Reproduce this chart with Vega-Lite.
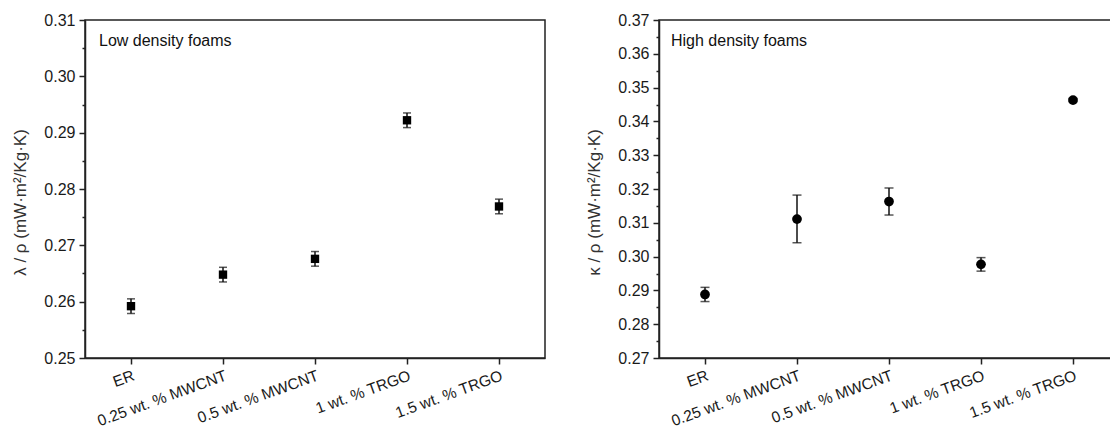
{
  "$schema": "https://vega.github.io/schema/vega-lite/v6.json",
  "padding": {"left": 11, "top": 11, "right": 0, "bottom": 0},
  "spacing": 39,
  "datasets": {
    "low": [
      {"cat": "ER", "v": 0.2592, "lo": 0.2579, "hi": 0.2605},
      {"cat": "0.25 wt. % MWCNT", "v": 0.2648, "lo": 0.2635, "hi": 0.2661},
      {"cat": "0.5 wt. % MWCNT", "v": 0.2676, "lo": 0.2663, "hi": 0.2689},
      {"cat": "1 wt. % TRGO", "v": 0.2922, "lo": 0.2909, "hi": 0.2935},
      {"cat": "1.5 wt. % TRGO", "v": 0.2769, "lo": 0.2756, "hi": 0.2782}
    ],
    "high": [
      {"cat": "ER", "v": 0.2888, "lo": 0.2867, "hi": 0.2909},
      {"cat": "0.25 wt. % MWCNT", "v": 0.3111, "lo": 0.3041, "hi": 0.3182},
      {"cat": "0.5 wt. % MWCNT", "v": 0.3163, "lo": 0.3123, "hi": 0.3203},
      {"cat": "1 wt. % TRGO", "v": 0.2977, "lo": 0.2957, "hi": 0.2997},
      {"cat": "1.5 wt. % TRGO", "v": 0.3463, "lo": 0.3458, "hi": 0.3468}
    ],
    "labels": [
      {"panel": "low", "label": "Low density foams"},
      {"panel": "high", "label": "High density foams"}
    ]
  },
  "config": {
    "font": "Liberation Sans",
    "view": {"stroke": "#222", "strokeWidth": 1.5},
    "axis": {
      "grid": false,
      "domainColor": "#222",
      "domainWidth": 1.5,
      "tickColor": "#222",
      "tickWidth": 1.5,
      "tickSize": 6,
      "labelFont": "Liberation Sans",
      "labelFontSize": 16,
      "labelColor": "#1a1a1a",
      "titleFont": "Liberation Sans",
      "titleFontSize": 17,
      "titleFontWeight": "normal",
      "titleColor": "#333"
    }
  },
  "hconcat": [
    {
      "width": 460,
      "height": 338,
      "data": {"name": "low"},
      "resolve": {"axis": {"y": "independent"}},
      "layer": [
        {
          "mark": {"type": "rule", "color": "#111", "strokeWidth": 1.5},
          "encoding": {
            "x": {"field": "cat", "type": "nominal", "sort": null,
                  "scale": {"type": "point", "padding": 0.5},
                  "axis": {"title": null, "labelAngle": -20, "labelAlign": "right", "labelBaseline": "top", "labelPadding": 4, "labelFontSize": 15.5}},
            "y": {"field": "lo", "type": "quantitative",
                  "scale": {"domain": [0.25, 0.31], "nice": false, "zero": false},
                  "axis": {"orient": "left", "values": [0.25, 0.26, 0.27, 0.28, 0.29, 0.30, 0.31], "format": ".2f", "labelPadding": 4, "titlePadding": 14, "titleY": 182, "title": "λ  /  ρ (mW·m²/Kg·K)"}},
            "y2": {"field": "hi"}
          }
        },
        {
          "mark": {"type": "tick", "color": "#111", "thickness": 1.5, "size": 8},
          "encoding": {
            "x": {"field": "cat", "type": "nominal", "sort": null},
            "y": {"field": "lo", "type": "quantitative",
                  "axis": {"orient": "left", "values": [0.255, 0.265, 0.275, 0.285, 0.295, 0.305], "labels": false, "domain": false, "tickSize": 3, "title": null}}
          }
        },
        {
          "mark": {"type": "tick", "color": "#111", "thickness": 1.5, "size": 8},
          "encoding": {
            "x": {"field": "cat", "type": "nominal", "sort": null},
            "y": {"field": "hi", "type": "quantitative", "axis": null}
          }
        },
        {
          "mark": {"type": "point", "shape": "square", "filled": true, "color": "#000", "opacity": 1, "size": 70},
          "encoding": {
            "x": {"field": "cat", "type": "nominal", "sort": null},
            "y": {"field": "v", "type": "quantitative", "axis": null}
          }
        },
        {
          "data": {"name": "labels"},
          "transform": [{"filter": "datum.panel === 'low'"}],
          "mark": {"type": "text", "align": "left", "baseline": "alphabetic", "dx": -32, "dy": 26, "fontSize": 16, "fontWeight": "normal", "color": "#111", "font": "Liberation Sans"},
          "encoding": {
            "x": {"datum": "ER", "type": "nominal"},
            "y": {"datum": 0.31, "type": "quantitative", "axis": null},
            "text": {"field": "label"}
          }
        }
      ]
    },
    {
      "width": 460,
      "height": 338,
      "data": {"name": "high"},
      "resolve": {"axis": {"y": "independent"}},
      "layer": [
        {
          "mark": {"type": "rule", "color": "#111", "strokeWidth": 1.5},
          "encoding": {
            "x": {"field": "cat", "type": "nominal", "sort": null,
                  "scale": {"type": "point", "padding": 0.5},
                  "axis": {"title": null, "labelAngle": -20, "labelAlign": "right", "labelBaseline": "top", "labelPadding": 4, "labelFontSize": 15.5}},
            "y": {"field": "lo", "type": "quantitative",
                  "scale": {"domain": [0.27, 0.37], "nice": false, "zero": false},
                  "axis": {"orient": "left", "values": [0.27, 0.28, 0.29, 0.30, 0.31, 0.32, 0.33, 0.34, 0.35, 0.36, 0.37], "format": ".2f", "labelPadding": 4, "titlePadding": 14, "titleY": 182, "title": "κ  /  ρ (mW·m²/Kg·K)"}},
            "y2": {"field": "hi"}
          }
        },
        {
          "mark": {"type": "tick", "color": "#111", "thickness": 1.5, "size": 9},
          "encoding": {
            "x": {"field": "cat", "type": "nominal", "sort": null},
            "y": {"field": "lo", "type": "quantitative",
                  "axis": {"orient": "left", "values": [0.275, 0.285, 0.295, 0.305, 0.315, 0.325, 0.335, 0.345, 0.355, 0.365], "labels": false, "domain": false, "tickSize": 3, "title": null}}
          }
        },
        {
          "mark": {"type": "tick", "color": "#111", "thickness": 1.5, "size": 9},
          "encoding": {
            "x": {"field": "cat", "type": "nominal", "sort": null},
            "y": {"field": "hi", "type": "quantitative", "axis": null}
          }
        },
        {
          "mark": {"type": "point", "shape": "circle", "filled": true, "color": "#000", "opacity": 1, "size": 95},
          "encoding": {
            "x": {"field": "cat", "type": "nominal", "sort": null},
            "y": {"field": "v", "type": "quantitative", "axis": null}
          }
        },
        {
          "data": {"name": "labels"},
          "transform": [{"filter": "datum.panel === 'high'"}],
          "mark": {"type": "text", "align": "left", "baseline": "alphabetic", "dx": -34, "dy": 26, "fontSize": 16, "fontWeight": "normal", "color": "#111", "font": "Liberation Sans"},
          "encoding": {
            "x": {"datum": "ER", "type": "nominal"},
            "y": {"datum": 0.37, "type": "quantitative", "axis": null},
            "text": {"field": "label"}
          }
        }
      ]
    }
  ]
}
